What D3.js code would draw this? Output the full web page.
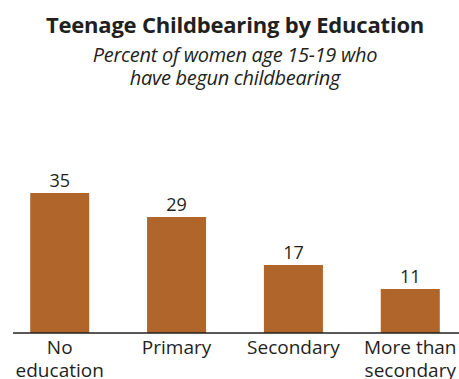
<!DOCTYPE html>
<html>
<head>
<meta charset="utf-8">
<script src="https://cdn.jsdelivr.net/npm/d3@7"></script>
<style>
  body { margin: 0; background: #fff; }
  text { font-family: "Open Sans", "Noto Sans", sans-serif; fill: #231f20; }
</style>
</head>
<body>
<div id="chart"></div>
<script>
const categories = [["No", "education"], ["Primary"], ["Secondary"], ["More than", "secondary"]];
const values = [35, 29, 17, 11];
const title = "Teenage Childbearing by Education";
const subtitle = ["Percent of women age 15-19 who", "have begun childbearing"];

const width = 459, height = 379;
const baseline = 333;

const svg = d3.select("#chart").append("svg")
    .attr("width", width)
    .attr("height", height);

const x = d3.scaleBand()
    .domain(d3.range(values.length))
    .range([1, 469])
    .paddingInner(0.495)
    .paddingOuter(0.25);

const y = d3.scaleLinear()
    .domain([0, 35])
    .range([baseline, 193]);

// title
svg.append("text")
    .attr("x", 235).attr("y", 33)
    .attr("text-anchor", "middle")
    .attr("font-size", 22).attr("font-weight", "bold")
    .attr("letter-spacing", -0.2)
    .text(title);

svg.selectAll(".sub").data(subtitle).enter().append("text")
    .attr("x", 235).attr("y", (d, i) => 62 + i * 23)
    .attr("text-anchor", "middle")
    .attr("font-size", 20).attr("font-style", "italic")
    .attr("letter-spacing", -0.3)
    .text(d => d);

// bars
svg.selectAll(".bar").data(values).enter().append("rect")
    .attr("x", (d, i) => x(i))
    .attr("y", d => y(d))
    .attr("width", x.bandwidth())
    .attr("height", d => baseline - y(d))
    .attr("fill", "#b0652a");

svg.selectAll(".val").data(values).enter().append("text")
    .attr("x", (d, i) => x(i) + x.bandwidth() / 2)
    .attr("y", d => y(d) - 6)
    .attr("text-anchor", "middle")
    .attr("font-size", 18)
    .text(d => d);

// axis line
svg.append("line")
    .attr("x1", 13).attr("x2", 459)
    .attr("y1", baseline).attr("y2", baseline)
    .attr("stroke", "#231f20").attr("stroke-width", 1.5);

// category labels
categories.forEach((lines, i) => {
    const t = svg.append("text")
        .attr("x", x(i) + x.bandwidth() / 2)
        .attr("y", 354)
        .attr("text-anchor", "middle")
        .attr("font-size", 19);
    lines.forEach((l, j) => {
        t.append("tspan")
            .attr("x", x(i) + x.bandwidth() / 2)
            .attr("dy", j === 0 ? 0 : 23)
            .text(l);
    });
});
</script>
</body>
</html>
